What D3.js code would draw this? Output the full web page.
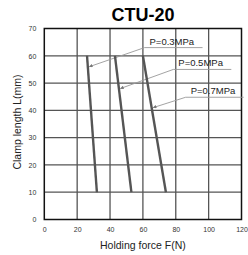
<!DOCTYPE html>
<html lang="en">
<head>
  <meta charset="UTF-8">
  <title>CTU-20</title>
  <script src="https://d3js.org/d3.v7.min.js"></script>
  <style>
    body { margin: 0; background: #fff; }
    svg text { font-family: "Liberation Sans", Arial, sans-serif; }
    .grid line { stroke: #555; stroke-width: 1.3px; }
    .tick text { fill: #333; font-size: 7px; }
    .curve { stroke: #555; stroke-width: 2.4px; fill: none; }
    .leader { stroke: #999; stroke-width: 0.9px; fill: none; }
  </style>
</head>
<body>
  <svg width="248" height="255"></svg>
  <script>
    // values
    const pressures = ["P=0.3MPa", "P=0.5MPa", "P=0.7MPa"];
    const lengths = [60, 10];              // clamp length at the ends of each line
    const forceAt60 = [26, 43, 60];
    const forceAt10 = [32, 53, 74];
    const arrowAtLength = [56, 48, 41];    // where each leader touches its line
    const labelForce = [61, 78.5, 86];     // left end of the label underline
    const labelLength = [63, 55, 44.8];
    const xTicks = [0, 20, 40, 60, 80, 100, 120];
    const yTicks = [0, 10, 20, 30, 40, 50, 60, 70];

    const svg = d3.select("svg");
    const x = d3.scaleLinear().domain([0, 120]).range([44.3, 241.5]);
    const y = d3.scaleLinear().domain([0, 70]).range([219.5, 28.5]);

    svg.append("defs").append("marker")
        .attr("id", "arr")
        .attr("viewBox", "0 0 10 10")
        .attr("refX", 9).attr("refY", 5)
        .attr("markerWidth", 5).attr("markerHeight", 4)
        .attr("orient", "auto")
      .append("path")
        .attr("d", "M0,0L10,5L0,10z")
        .attr("fill", "#777");

    // grid
    const grid = svg.append("g").attr("class", "grid");
    grid.selectAll(".v").data(xTicks.slice(1, -1)).join("line")
        .attr("x1", d => x(d)).attr("x2", d => x(d))
        .attr("y1", y(0)).attr("y2", y(70));
    grid.selectAll(".h").data(yTicks.slice(1, -1)).join("line")
        .attr("y1", d => y(d)).attr("y2", d => y(d))
        .attr("x1", x(0)).attr("x2", x(120));

    svg.append("rect")
        .attr("x", x(0)).attr("y", y(70))
        .attr("width", x(120) - x(0)).attr("height", y(0) - y(70))
        .attr("fill", "none").attr("stroke", "#111").attr("stroke-width", 1.5);

    // axes (labels only)
    svg.append("g")
        .attr("transform", `translate(0,${y(0) + 5})`)
        .call(d3.axisBottom(x).tickValues(xTicks).tickSize(0).tickPadding(3))
        .call(g => g.select(".domain").remove());
    svg.append("g")
        .attr("transform", `translate(${x(0) - 6},0)`)
        .call(d3.axisLeft(y).tickValues(yTicks).tickSize(0).tickPadding(2))
        .call(g => g.select(".domain").remove());

    // curves
    const line = d3.line().x(d => x(d[0])).y(d => y(d[1]));
    pressures.forEach((p, i) => {
      svg.append("path").attr("class", "curve")
          .attr("d", line([[forceAt60[i], lengths[0]], [forceAt10[i], lengths[1]]]));

      const t = (lengths[0] - arrowAtLength[i]) / (lengths[0] - lengths[1]);
      const fx = forceAt60[i] + t * (forceAt10[i] - forceAt60[i]);
      const lx = x(labelForce[i]), ly = y(labelLength[i]);

      svg.append("line").attr("class", "leader")
          .attr("x1", lx + 58).attr("y1", ly)
          .attr("x2", lx).attr("y2", ly);
      svg.append("line").attr("class", "leader")
          .attr("x1", lx).attr("y1", ly)
          .attr("x2", x(fx) + 1.5).attr("y2", y(arrowAtLength[i]))
          .attr("marker-end", "url(#arr)");
      svg.append("text")
          .attr("x", lx + 5).attr("y", ly - 3)
          .attr("font-size", 9.5).attr("fill", "#222")
          .text(p);
    });

    svg.append("text")
        .attr("x", 143).attr("y", 21)
        .attr("text-anchor", "middle")
        .attr("font-size", 18).attr("font-weight", "bold")
        .text("CTU-20");

    svg.append("text")
        .attr("x", x(60)).attr("y", 249)
        .attr("text-anchor", "middle")
        .attr("font-size", 10.5).attr("fill", "#222")
        .text("Holding force F(N)");

    svg.append("text")
        .attr("transform", `translate(21,122) rotate(-90)`)
        .attr("text-anchor", "middle")
        .attr("font-size", 10.5).attr("fill", "#222")
        .text("Clamp length L(mm)");
  </script>
</body>
</html>
